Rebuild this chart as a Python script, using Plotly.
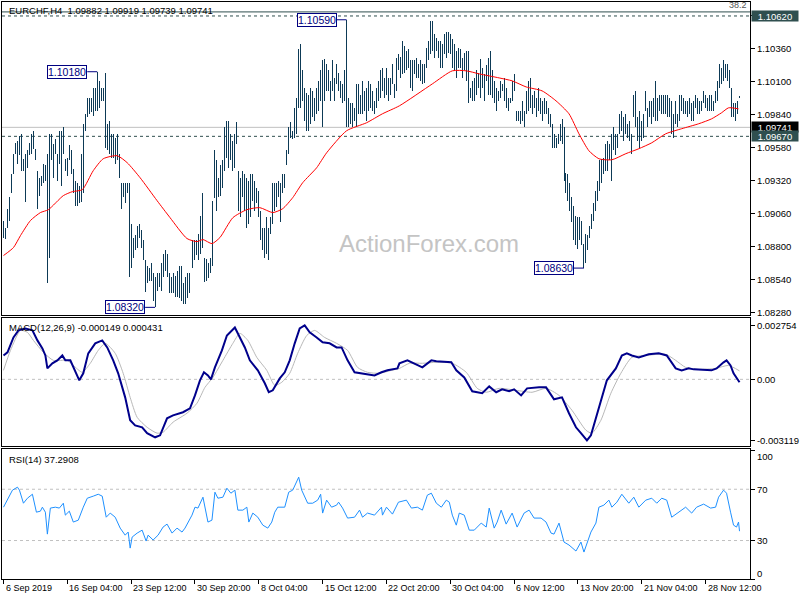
import plotly.graph_objects as go

# ---------------- data ----------------
SYMBOL_TITLE = "EURCHF,H4  1.09882 1.09919 1.09739 1.09741"
MACD_TITLE = "MACD(12,26,9) -0.000149 0.000431"
RSI_TITLE = "RSI(14) 37.2908"
WATERMARK = "ActionForex.com"

BASE = 1.08      # prices are stored in pips above this base
PIP = 0.0001

high_pips = [100,95,110,119,137,153,162,163,167,169,
149,153,156,162,169,171,157,140,134,136,
145,144,153,169,169,161,165,153,171,171,
174,149,150,160,156,141,132,130,128,153,
177,185,197,197,197,205,205,218,211,205,
205,217,177,179,169,169,166,169,153,130,
130,130,130,130,98,87,89,96,98,93,
85,69,65,63,67,59,56,59,59,67,
74,77,74,59,56,59,57,61,65,65,
51,56,59,59,71,85,85,85,90,104,
122,71,70,67,71,116,156,148,134,144,
148,174,179,179,169,163,169,178,140,134,
140,137,134,132,137,137,132,126,124,108,
95,95,103,95,103,130,130,130,132,130,
137,137,156,174,178,171,189,197,236,240,
219,205,201,200,205,203,197,205,211,219,
227,228,224,219,211,227,213,224,217,211,
208,219,259,197,193,193,189,208,208,200,
211,203,205,211,208,203,195,205,211,219,
221,213,221,213,213,224,208,229,232,230,
242,238,234,236,227,227,227,229,224,227,
224,224,237,242,258,258,248,245,242,242,
240,248,249,249,248,244,240,234,237,236,
229,233,234,234,205,211,213,219,217,228,
221,216,223,229,234,219,211,205,203,211,
208,213,205,197,197,211,216,187,187,187,
195,187,203,211,213,200,203,197,205,197,
195,197,195,189,185,177,169,166,169,177,
181,174,138,137,130,119,112,104,103,103,
100,82,90,89,96,106,114,124,132,148,
149,150,161,163,161,169,174,169,169,185,
187,182,185,177,179,169,200,203,182,187,
179,185,203,189,195,195,197,211,197,200,
200,200,200,200,197,195,185,195,185,200,
200,197,195,195,197,193,195,200,197,195,
195,203,200,197,200,200,195,203,211,224,
221,227,224,224,219,205,193,193,195,199.19]

low_pips = [87,86,95,100,122,137,153,145,152,140,
140,115,142,152,153,157,148,110,120,128,
130,132,51,71,148,134,153,132,145,128,
153,140,136,148,137,122,112,112,114,115,
122,171,182,185,186,183,187,187,189,195,
195,158,156,153,150,150,145,148,134,110,
119,114,122,56,63,71,77,79,87,79,
69,44,51,53,53,37,32,45,48,45,
56,61,56,43,43,43,40,40,39,37,
35,35,39,43,51,63,69,73,69,74,
79,52,53,55,59,65,118,108,119,120,
126,140,150,142,148,140,142,161,108,103,
119,108,95,98,103,116,108,114,103,85,
77,71,74,69,90,98,108,111,119,99,
122,126,144,153,166,165,166,169,189,189,
195,179,171,171,177,182,179,185,187,195,
174,195,203,203,195,203,195,208,203,197,
193,195,174,174,177,174,179,174,185,185,
185,187,179,187,189,187,185,189,195,197,
203,197,200,195,200,208,197,203,219,213,
216,217,219,221,205,203,216,213,213,211,
208,209,221,227,232,234,229,234,229,221,
221,232,229,233,232,221,219,213,221,221,
213,219,211,193,197,195,195,200,205,197,
205,195,211,200,200,197,193,187,195,197,
203,195,189,187,193,195,203,179,179,177,
179,174,185,187,189,185,189,182,187,185,
179,185,185,177,174,158,158,158,161,163,
161,132,122,116,108,99,85,81,78,85,
81,63,67,77,87,94,100,108,116,124,
130,137,140,140,148,132,156,152,158,169,
171,163,169,166,163,153,182,174,163,158,
163,166,187,174,182,177,182,179,179,187,
185,185,185,182,182,169,166,177,174,179,
187,185,185,182,185,179,179,189,185,185,
187,193,189,187,187,187,187,193,195,205,
208,211,213,211,205,182,182,179,185,197.39]

# moving average (red), sampled along the curve: bar index -> pips above BASE
ma_bar = [0,5,8.5,13.5,18.5,22.5,30,34.5,39.5,45,50,57,62,68.5,77,83.5,92,97,100,104.5,
          108.5,115,122,128.5,135,140,145,150,157,162,172,182,190,198.5,215,225,232,238.5,
          248.5,255,262,270,277,283.5,288.5,293.5,298.5,305,312,318.5,325,332,340,348.5,
          355,360,363.5,368.5]
ma_pips = [72.9,79.2,88.6,100.5,106.8,109.1,120.2,123.3,124.9,139.9,149.3,151.7,146.2,134.3,
           116.2,102.8,86.3,83.9,85.5,82.3,87.1,102.8,109.1,110.7,106.8,109.9,118.6,130.4,
           142.2,154.0,171.4,177.7,184.8,191.1,208.4,218.7,218.7,216.3,213.1,210.8,206.0,
           202.9,195.0,184.8,169.0,155.6,149.3,148.5,153.3,157.2,161.9,169.0,173.0,176.9,
           180.8,185.6,189.5,188.7]

# MACD main line (units of 1e-4)
macd_bar = [0,2,5,7.5,11,14.5,17,19.5,21,22,24.5,27,29.5,31,33.5,36,38,40,42.5,46,
            49.5,52,55,57.5,61,63.5,66,69.5,72,76,78.5,82,85,90,93.5,96,98.5,100.5,102.5,104,
            106,109.5,112,116,117.5,121,123.5,127.5,131,133,135,138.5,141,143.5,146,148.5,151,153.5,157,160,
            163.5,167,169.5,172.5,176,180,186,189.5,192.5,197.5,198.5,202.5,206,210,214.5,217,224.5,227,231,235,
            240,243.5,247,250,253.5,256,259.5,262.5,268.5,272,276,280,283.5,287,289.5,292.5,294.5,298.5,302.5,307,
            310,312.5,315,318.5,323.5,328.5,332.5,337,340,343.5,346,355,357.5,361,362.5,364.5,366,369]
macd_val = [12.2,13.8,21.4,25.0,26.0,25.0,19.9,15.8,12.2,5.6,8.2,9.7,12.2,9.7,9.7,3.6,-0.5,3.1,13.3,18.4,
            19.9,16.3,9.7,3.1,-9.2,-20.9,-23.5,-24.5,-27.5,-29.6,-28.6,-19.9,-18.4,-16.8,-14.8,-8.2,-0.5,3.6,2.0,0.0,
            6.1,14.8,22.4,26.5,23.5,16.3,9.7,4.6,-2.0,-6.6,-5.6,0.5,3.6,9.7,18.4,26.0,27.54,24.0,21.4,18.9,
            18.4,16.3,16.3,9.7,3.6,3.1,2.0,3.6,4.6,5.6,8.2,9.7,8.2,6.1,9.7,9.2,8.7,4.6,1.0,-6.1,
            -7.1,-3.6,-6.6,-5.1,-6.1,-5.1,-8.2,-4.6,-4.1,-4.1,-10.2,-9.2,-17.3,-24.5,-27.5,-31.19,-28.6,-14.3,-0.5,5.6,
            12.2,13.3,12.2,11.2,12.8,13.3,12.2,5.6,4.6,5.6,5.1,4.6,5.6,8.7,9.7,7.1,3.1,-1.49]

# MACD signal line (units of 1e-4)
signal_bar = [0,3.5,8.5,12,15,20,25,32,35,39.5,43.5,47.5,51,56,60,63.5,67,72,77,80,
              85,92,97,101,105,110,115,118.5,122.5,127,132,136,139.5,143.5,147.5,152,156,161,167,172.5,
              177.5,182.5,188.5,194.5,198.5,203.5,210,217,225,232,237.5,242,248.5,257,265,272,278.5,285,292,295,
              299.5,304.5,309.5,315,322,332,337,342,348.5,357,363.5,369]
signal_val = [4.6,14.8,25.0,24.0,19.9,13.8,9.7,9.7,7.1,3.6,8.2,14.8,18.4,13.3,3.1,-9.2,-19.4,-24.5,-27.5,-27.0,
              -21.9,-17.3,-12.2,-4.1,1.0,9.7,18.4,23.5,19.9,11.2,4.6,-3.1,-1.5,3.1,13.3,22.4,25.0,21.4,18.4,14.8,
              6.1,3.6,3.1,4.6,5.6,8.2,8.2,8.7,8.2,3.6,-4.6,-6.6,-4.6,-5.6,-6.6,-4.6,-8.2,-15.8,-26.0,-27.5,
              -20.9,-7.1,3.1,11.2,12.2,12.8,9.7,6.1,5.1,5.6,7.1,4.31]

# RSI(14)
rsi_bar = [0,2,4.5,7,8,10,12,14.5,15,16.5,18.5,19.5,21,22,23.5,26,28,30,31,33,
           35,37.5,40,42,45,47.5,49.5,51.5,53.5,56,58.5,61,62.5,63.5,64.5,67,69.5,71.5,72.5,75,
           77.5,80,82,84.5,87,89.5,91,92.5,94.5,96,97.5,100,101,102.5,104.5,106,107.5,110,112,114,
           116,117.5,120,122,123,125,127.5,130,132.5,134.5,136,137.5,141,143,145,147,148,149.5,151,152.5,
           155,157.5,159,160,162,164.5,167,168,170,172.5,176,178.5,180,182.5,186,189.5,190,192,195,198,
           202,204.5,207.5,210,212.5,214.5,217,219.5,222,223.5,225,227,228.5,231,233.5,236,239.5,242,243.5,246,
           247.5,249.5,252,255,257.5,261,263.5,266,269.5,272,274.5,276,278.5,281,283.5,287,289.5,291,294.5,297,
           298.5,301,303.5,305,307.5,310,313.5,316,318.5,322,325,327.5,330,332.5,335,338.5,342,345,347.5,351,
           354.5,357,358.5,361,362.5,364.5,366,367.5,368.5,369]
rsi_val = [56.0,61.5,69.3,71.6,69.3,59.1,63.0,66.1,63.0,52.1,52.9,56.0,52.1,35.0,55.3,56.0,55.3,59.1,49.8,52.9,
           44.4,45.9,56.0,63.0,64.6,66.1,64.6,48.2,51.4,48.2,39.7,34.2,36.6,24.1,32.7,35.8,38.1,29.6,34.2,30.4,
           34.2,40.5,42.8,35.8,39.7,36.6,39.7,43.6,49.8,56.0,55.3,63.8,55.3,44.4,45.9,67.7,63.0,63.8,70.8,66.9,
           69.3,53.7,53.7,56.0,44.4,51.4,48.2,42.0,39.7,44.4,52.1,56.0,56.0,67.7,69.3,75.5,79.4,69.3,63.8,59.1,
           59.1,61.5,66.1,51.4,61.5,56.0,57.6,59.9,55.3,47.5,48.2,53.7,48.2,51.4,49.8,56.0,49.8,56.0,50.6,59.9,
           61.5,55.3,56.0,53.7,65.4,66.9,59.1,56.0,61.5,59.9,49.8,42.0,51.4,49.8,38.1,38.1,43.6,40.5,55.3,39.7,
           44.4,53.7,42.8,51.4,40.5,51.4,53.7,47.5,47.5,44.4,35.8,35.0,43.6,28.8,26.5,21.8,28.8,21.0,36.6,43.6,
           56.0,57.6,61.5,56.0,59.9,66.1,59.1,63.8,56.0,61.5,63.0,59.1,63.0,61.5,48.2,52.1,56.0,51.4,56.0,58.4,
           55.3,56.0,63.8,69.3,66.9,52.1,42.0,40.5,44.4,37.29]

date_tick_bars = [0, 32, 64, 96, 128, 160, 192, 224, 256, 288, 320, 352]
date_tick_labels = ["6 Sep 2019", "16 Sep 04:00", "23 Sep 12:00", "30 Sep 20:00", "8 Oct 04:00",
                    "15 Oct 12:00", "22 Oct 20:00", "30 Oct 04:00", "6 Nov 12:00", "13 Nov 20:00",
                    "21 Nov 04:00", "28 Nov 12:00"]

price_ticks = [1.0828, 1.0854, 1.0880, 1.0906, 1.0932, 1.0958, 1.0984, 1.1010, 1.1036, 1.1062]
macd_ticks = [0.002754, 0.0, -0.003119]
macd_tick_text = ["0.002754", "0.00", "-0.003119"]
rsi_levels = [30, 70]

level_upper = 1.1062     # dashed horizontal line
level_lower = 1.0967     # dashed horizontal line
bid_price = 1.09741      # last price line
fib_level = 1.10652      # fibo 38.2 level line
fib_text = "38.2"

# ---------------- styling ----------------
FONT = "Tahoma, 'Liberation Sans', Arial, sans-serif"
BAR_COLOR = "rgba(13,58,86,0.999)"
DARK = "#2f4f4f"
W, H = 800, 600
ML, MR, MT, MB = 2, 48, 1, 21
PLOT_H = H - MT - MB


def py(px):
    """pixel row -> paper fraction"""
    return (H - MB - px) / PLOT_H


highs = [BASE + v * PIP for v in high_pips]
lows = [BASE + v * PIP for v in low_pips]
ma = [BASE + v * PIP for v in ma_pips]
macd = [v * 1e-4 for v in macd_val]
signal = [v * 1e-4 for v in signal_val]
n = len(highs)
bars = list(range(n))

fig = go.Figure()
# high-low bars: 1 px wide rectangles from low to high
fig.add_trace(go.Bar(x=bars, y=[h - l for h, l in zip(highs, lows)], base=lows, width=0.5,
                     marker=dict(color=BAR_COLOR, line=dict(width=0)),
                     xaxis="x", yaxis="y", hoverinfo="skip"))
fig.add_trace(go.Scatter(x=ma_bar, y=ma, mode="lines",
                         line=dict(color="#ff0000", width=1, shape="spline", smoothing=0.6),
                         xaxis="x", yaxis="y", hoverinfo="skip"))
fig.add_trace(go.Scatter(x=signal_bar, y=signal, mode="lines",
                         line=dict(color="#b8b8b8", width=1, shape="spline", smoothing=0.6),
                         xaxis="x2", yaxis="y2", hoverinfo="skip"))
fig.add_trace(go.Scatter(x=macd_bar, y=macd, mode="lines", line=dict(color="#00008b", width=2),
                         xaxis="x2", yaxis="y2", hoverinfo="skip"))
fig.add_trace(go.Scatter(x=rsi_bar, y=rsi_val, mode="lines", line=dict(color="#1e90ff", width=1),
                         xaxis="x3", yaxis="y3", hoverinfo="skip"))

shapes = []


def hline(y, yref, color, dash, layer="below"):
    shapes.append(dict(type="line", xref="x domain" if yref == "y" else
                       ("x2 domain" if yref == "y2" else "x3 domain"),
                       x0=0, x1=1, yref=yref, y0=y, y1=y,
                       line=dict(color=color, width=1, dash=dash), layer=layer))


hline(fib_level, "y", DARK, "solid")
hline(level_upper, "y", DARK, "3px,3px")
hline(level_lower, "y", DARK, "3px,3px")
hline(bid_price, "y", "#c0c0c0", "solid")
hline(0, "y2", "#c0c0c0", "3px,3px")
for lv in rsi_levels:
    hline(lv, "y3", "#c0c0c0", "3px,3px")

annotations = []

# fibo label (first, so the price boxes are drawn above it)
annotations.append(dict(x=1, xref="paper", xanchor="right", xshift=-1, y=fib_level, yref="y",
                        yanchor="bottom", text=fib_text, showarrow=False,
                        font=dict(family=FONT, size=9, color="#555555")))

LABEL_GAP = 5  # bars between label box and the bar it points to


def extreme(idx, price):
    shapes.append(dict(type="line", xref="x", yref="y", x0=idx - LABEL_GAP, x1=idx, y0=price, y1=price,
                       line=dict(color="#000080", width=1), layer="above"))
    annotations.append(dict(x=idx - LABEL_GAP, y=price, xref="x", yref="y", xanchor="right", yanchor="middle",
                            text=f"{price:.5f}", showarrow=False, bgcolor="white", bordercolor="#000080",
                            borderwidth=1, borderpad=0, font=dict(family=FONT, size=10.5, color="#000080")))


def argmax(seq, a, b):
    return max(range(a, b), key=lambda k: seq[k])


def argmin(seq, a, b):
    return min(range(a, b), key=lambda k: seq[k])


for a, b in [(0, 100), (100, 200)]:
    k = argmax(highs, a, b)
    extreme(k, round(highs[k], 5))
for a, b in [(0, 150), (250, n)]:
    k = argmin(lows, a, b)
    extreme(k, round(lows[k], 5))

# right-hand price boxes
for price, bg in [(level_upper, DARK), (bid_price, "#000000"), (level_lower, DARK)]:
    annotations.append(dict(x=1, xref="paper", xanchor="left", xshift=1, y=price, yref="y", yanchor="middle",
                            text=f"{price:.5f}", showarrow=False, bgcolor=bg, borderpad=0, width=46,
                            height=10, align="center", valign="middle",
                            font=dict(family=FONT, size=9.5, color="white")))

# panel titles
for txt, ypx in [(SYMBOL_TITLE, 10), (MACD_TITLE, 327), (RSI_TITLE, 459)]:
    annotations.append(dict(x=(7 - ML) / (W - ML - MR), xref="paper", xanchor="left", y=py(ypx), yref="paper",
                            yanchor="middle", text=txt, showarrow=False,
                            font=dict(family=FONT, size=9.5, color="black")))

# RSI 100 / 0 labels (inset like the terminal)
for txt, ypx in [("100", 456), ("0", 573)]:
    annotations.append(dict(x=1, xref="paper", xanchor="left", xshift=5, y=py(ypx), yref="paper",
                            yanchor="middle", text=txt, showarrow=False,
                            font=dict(family=FONT, size=9.5, color="black")))

# watermark
annotations.append(dict(x=(430 - ML) / (W - ML - MR), y=py(243), xref="paper", yref="paper",
                        text=WATERMARK, showarrow=False,
                        font=dict(family="'Liberation Sans', Arial, sans-serif", size=24, color="#c4c4c4")))

# date labels
for b, t in zip(date_tick_bars, date_tick_labels):
    annotations.append(dict(x=b, xref="x3", y=0, yref="paper", xanchor="left", yanchor="top", yshift=-2,
                            text=t, showarrow=False, font=dict(family=FONT, size=9, color="black")))

XR = [-0.75, 374.25]
price_top = level_upper + 14 * 0.0000788
price_bot = price_top - 314 * 0.0000788

common_x = dict(range=XR, showgrid=False, zeroline=False, showline=True, mirror=True,
                linecolor="black", linewidth=1, showticklabels=False, fixedrange=True)
common_y = dict(side="right", showgrid=False, zeroline=False, showline=True, mirror=True,
                linecolor="black", linewidth=1, ticks="outside", ticklen=4, tickcolor="black",
                tickfont=dict(family=FONT, size=9.5, color="black"), fixedrange=True)

fig.update_layout(
    width=W, height=H,
    margin=dict(l=ML, r=MR, t=MT, b=MB),
    paper_bgcolor="white", plot_bgcolor="white",
    showlegend=False, hovermode=False, barmode="overlay", bargap=0, bargroupgap=0,
    xaxis=dict(**common_x, anchor="y", domain=[0, 1], ticks=""),
    xaxis2=dict(**common_x, anchor="y2", domain=[0, 1], matches="x", ticks=""),
    xaxis3=dict(**common_x, anchor="y3", domain=[0, 1], matches="x", ticks="outside", ticklen=4,
                tickcolor="black", tickvals=date_tick_bars),
    yaxis=dict(**common_y, anchor="x", domain=[py(315), 1], range=[price_bot, price_top],
               tickvals=price_ticks, ticktext=[f"{p:.5f}" for p in price_ticks]),
    yaxis2=dict(**common_y, anchor="x2", domain=[py(446), py(318)], range=[-0.003417, 0.003111],
                tickvals=macd_ticks, ticktext=macd_tick_text),
    yaxis3=dict(**common_y, anchor="x3", domain=[0, py(449)], range=[0, 101.2],
                tickvals=[0, 30, 70, 100], ticktext=["", "30", "70", ""]),
    shapes=shapes,
    annotations=annotations,
)

fig.write_html("out.html", config={"displayModeBar": False},
               post_script="document.body.style.margin='0px';document.body.style.overflow='hidden';")
